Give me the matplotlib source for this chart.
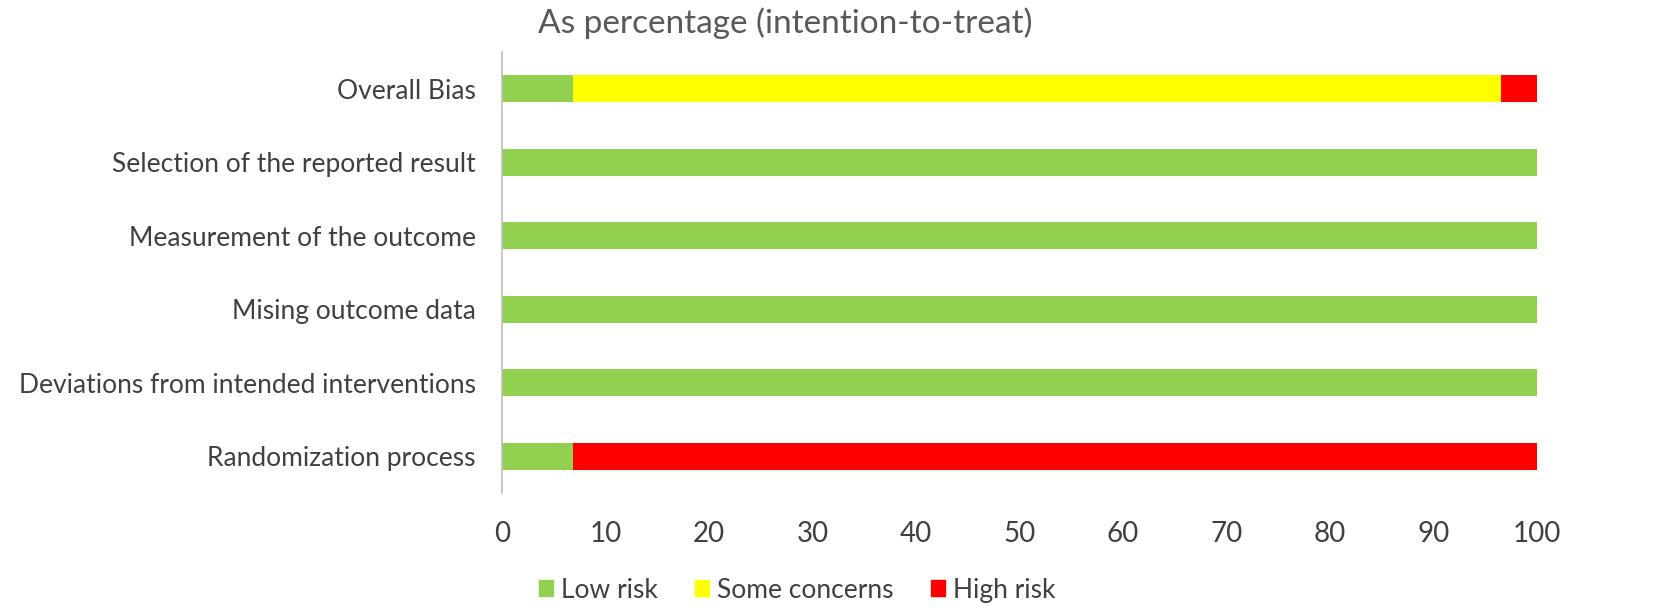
import numpy as np
import matplotlib
matplotlib.use("Agg")
import matplotlib.pyplot as plt
from matplotlib.patches import Patch

plt.rcParams['font.family'] = ['Lato', 'DejaVu Sans']

# domaines, du bas vers le haut
domaines = ["Randomization process",
            "Deviations from intended interventions",
            "Mising outcome data",
            "Measurement of the outcome",
            "Selection of the reported result",
            "Overall Bias"]
low_risk = [6.9, 100, 100, 100, 100, 6.9]
some_concerns = [0, 0, 0, 0, 0, 89.66]
high_risk = [93.1, 0, 0, 0, 0, 3.44]

couleurs = {'Low risk': '#92D050', 'Some concerns': '#FFFF00', 'High risk': '#FF0000'}
texte = '#404040'

fig = plt.figure(figsize=(16.54, 6.16), dpi=100)
ax = fig.add_axes([0.3035, 0.1997, 0.6258, 0.7159])

y = np.arange(len(domaines))
low = np.array(low_risk)
some = np.array(some_concerns)
high = np.array(high_risk)
h = 0.37
ax.barh(y, low, height=h, color=couleurs['Low risk'])
ax.barh(y, some, height=h, left=low, color=couleurs['Some concerns'])
ax.barh(y, high, height=h, left=low+some, color=couleurs['High risk'])

ax.set_xlim(0, 100)
ax.set_ylim(-0.5, len(domaines)-0.5)
ax.set_xticks(np.arange(0, 101, 10))
ax.set_yticks(y)
ax.set_yticklabels(domaines)
ax.tick_params(axis='both', length=0, colors=texte)
ax.tick_params(axis='x', pad=20, labelsize=20)
ax.tick_params(axis='y', pad=19, labelsize=19)
for s in ['top', 'right', 'bottom']:
    ax.spines[s].set_visible(False)
ax.spines['left'].set_color('#BFBFBF')
ax.spines['left'].set_linewidth(1.2)

fig.text(0.475, 0.962, "As percentage (intention-to-treat)", ha='center', va='center',
         fontsize=24, color='#595959')

poignees = [Patch(color=c, label=k) for k, c in couleurs.items()]
fig.legend(handles=poignees, loc='center', bbox_to_anchor=(0.482, 0.042), ncol=3,
           frameon=False, fontsize=19, labelcolor=texte, handlelength=0.55,
           handleheight=0.55, handletextpad=0.3, columnspacing=1.4)

fig.savefig("out.png", dpi=100)
